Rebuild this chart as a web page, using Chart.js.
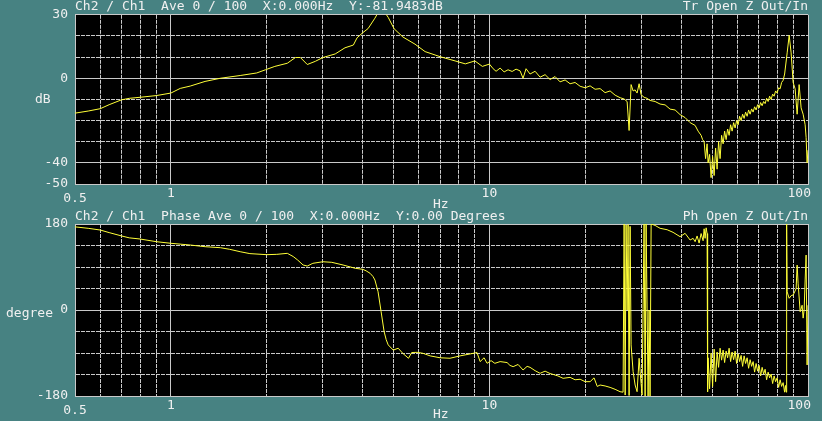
<!DOCTYPE html>
<html>
<head>
<meta charset="utf-8">
<script src="https://cdn.jsdelivr.net/npm/chart.js@4.4.0/dist/chart.umd.min.js"></script>
<style>
body{margin:0;background:#478282;width:822px;height:421px;overflow:hidden;position:relative;font-family:"DejaVu Sans Mono",monospace;color:#f0f0f0}
canvas{position:absolute;left:0}
.t{position:absolute;font-size:13px;line-height:13px;white-space:pre}
</style>
</head>
<body>
<canvas id="magChart" width="822" height="205" style="top:0"></canvas>
<canvas id="phaseChart" width="822" height="216" style="top:205px"></canvas>
<div class="t" style="left:75px;top:-1px">Ch2 / Ch1  Ave 0 / 100  X:0.000Hz  Y:-81.9483dB</div>
<div class="t" style="right:14px;top:-1px">Tr Open Z Out/In</div>
<div class="t" style="left:35px;top:92px">dB</div>
<div class="t" style="left:433px;top:197px">Hz</div>
<div class="t" style="left:75px;top:209px">Ch2 / Ch1  Phase Ave 0 / 100  X:0.000Hz  Y:0.00 Degrees</div>
<div class="t" style="right:14px;top:209px">Ph Open Z Out/In</div>
<div class="t" style="left:6px;top:306px">degree</div>
<div class="t" style="left:433px;top:407px">Hz</div>
<script>
// magnitude trace
let magFreq=[0.50,0.55,0.60,0.64,0.70,0.74,0.80,0.90,1.00,1.07,1.15,1.28,1.43,1.65,1.86,1.98,2.12,2.32,2.46,2.55,
 2.68,2.84,3.00,3.28,3.52,3.74,3.84,4.00,4.16,4.37,4.47,4.70,4.81,5.02,5.35,5.84,6.28,7.00,7.80,8.40,
 9.00,9.50,10.0,10.27,10.49,10.80,11.12,11.44,11.78,12.12,12.48,12.75,13.03,13.41,13.91,14.42,14.95,15.50,16.07,16.66,
 17.28,17.91,18.57,19.26,19.97,20.70,21.46,22.25,23.07,23.92,24.80,25.71,26.47,27.05,27.44,27.84,28.25,28.66,29.07,29.50,
 29.93,30.58,31.25,31.93,33.11,34.33,35.60,36.91,38.27,39.67,41.13,42.65,44.22,
 45.19,46.18,46.68,47.20,47.70,48.22,48.57,49.10,49.64,50.18,50.73,51.28,51.84,52.40,52.97,53.55,54.14,54.73,55.33,55.93,
 56.54,57.16,57.78,58.41,59.05,59.69,60.34,61.00,61.66,62.34,63.02,63.70,64.40,65.10,65.81,66.53,67.25,67.99,68.73,69.48,
 70.24,71.00,71.78,72.56,73.35,74.15,74.96,75.78,76.60,77.44,78.28,79.13,80.00,80.87,81.75,82.64,83.54,84.45,86.02,87.27,
 88.52,89.81,91.12,92.45,93.79,95.15,96.54,97.95,98.65,99.36,100.0];
let magDb=[-16.5,-15.5,-14.4,-12.5,-10.2,-9.5,-9.0,-8.2,-7.0,-4.8,-3.7,-1.5,0.0,1.3,2.5,4.0,5.6,7.1,9.8,9.8,
 6.5,8.0,9.8,11.5,14.4,15.7,19.1,21.5,23.5,28.4,31,31,28.8,23.4,19.5,16.1,12.6,10.2,8.2,6.8,
 8.2,5.6,6.7,4.5,3.3,4.8,3.0,4.0,3.2,4.3,3.5,0.0,4.5,2.0,3.3,0.5,1.7,-0.6,0.8,-1.7,
 -0.8,-2.6,-2.0,-3.8,-4.5,-3.6,-5.2,-4.9,-6.8,-6.0,-8.0,-9.2,-9.8,-11.0,-24.7,-3.0,-6.0,-5.5,-7.0,-2.6,
 -7.8,-9.0,-9.5,-10.5,-11.0,-12.2,-12.6,-14.6,-15.0,-17.2,-18.6,-21.0,-22.3,
 -25.0,-27,-29,-30,-38,-31,-40,-36,-47,-37,-46,-33,-43,-30,-38,-27,-31,-25,-29,-24,
 -27,-22,-25,-21,-23.5,-20,-22,-18,-20,-17,-19,-16,-18,-15,-17,-14.5,-16,-13.5,-15,-12.5,
 -14,-11.5,-13,-11,-12,-9.5,-11,-8.5,-10,-7.5,-8.5,-6,-7,-4.5,-5,-2,-1,2,12.0,20.3,
 12.0,-2.0,-5.0,-17.0,-3.0,-14.0,-17.0,-22.0,-28.0,-40.0,-34.0];

// phase trace
let phaseFreq=[0.50,0.55,0.60,0.64,0.70,0.74,0.80,0.90,1.00,1.15,1.28,1.43,1.53,1.65,1.77,2.00,2.15,2.32,2.42,2.50,
 2.60,2.68,2.79,3.00,3.20,3.47,3.79,4.00,4.10,4.22,4.31,4.37,4.47,4.57,4.67,4.74,4.81,4.99,5.17,5.35,
 5.57,5.70,5.93,6.19,6.51,7.00,7.52,8.09,8.69,9.14,9.35,9.62,9.83,10.12,10.40,10.80,11.36,11.60,11.87,12.30,
 12.75,13.13,13.41,13.91,14.42,14.95,15.50,15.80,16.40,17.03,17.91,18.57,19.26,19.97,20.70,21.30,21.80,22.25,23.07,23.92,
 24.80,25.71,26.27,26.47,26.67,26.85,27.05,27.24,27.44,27.64,27.84,28.25,28.66,29.07,29.50,29.71,30.14,30.58,30.81,31.03,
 31.25,31.48,31.71,31.93,32.18,33.11,34.33,36.12,37.70,39.67,41.13,42.65,43.58,44.22,44.86,45.52,46.18,46.85,47.20,47.53,
 47.89,48.22,
 48.40,48.57,49.10,49.64,50.18,50.73,51.28,51.84,52.40,52.97,
 53.55,54.14,54.73,55.33,55.93,56.54,57.16,57.78,58.41,59.05,
 59.69,60.34,61.00,61.66,62.34,63.02,63.70,64.40,65.10,65.81,
 66.53,67.25,67.99,68.73,69.48,70.24,71.00,71.78,72.56,73.35,
 74.15,74.96,75.78,76.60,77.44,78.28,79.13,80.00,80.87,81.75,
 82.64,83.54,84.45,85.00,85.40,85.70,86.02,87.27,88.52,89.81,
 91.12,91.78,92.45,93.10,94.50,95.84,96.54,97.24,97.95,98.65,
 99.36,100.0];
let phaseDeg=[174,171,167.4,162,155,151,148.6,143,139.6,136,132.5,130.4,127,122,118,115.8,116.5,118.6,112,104.6,
 94.2,92,97.7,101,99.8,94.2,87.3,85.2,82,76.8,70,62.8,38.3,-3.6,-45,-62,-73,-84,-80,-91,
 -101,-89,-88.6,-90.7,-96,-100,-101,-96,-92,-89,-108,-100,-111.6,-106,-111.6,-108,-110,-116,-118.6,-114,
 -125.6,-118,-120,-127,-132.5,-128,-133,-134.6,-138,-143,-141,-146,-145,-150,-150,-142,-160,-157,-159,-162,
 -166,-171,-172,180,-178,178,0,179,-179,175,-73,-129,-157,-171,-101,-129,-178,180,-180,180,
 4,-180,0,-180,180,177,171,168,162.6,153.5,160.5,146.5,150,143,155,140,160,145,170,150,
 172,160,
 -171,-100,-165,-90,-160,-82,-150,-88,-120,-80,
 -105,-84,-110,-86,-100,-80,-108,-88,-104,-86,
 -112,-92,-108,-95,-118,-96,-112,-100,-122,-104,
 -118,-108,-130,-112,-128,-116,-138,-120,-134,-124,
 -146,-130,-142,-134,-154,-138,-150,-142,-162,-146,
 -160,-152,-172,-158,-172,180,38,24.5,30,31.4,
 40,45,94,56,-3.6,10,-17,0,62.8,115,
 -115,10];

let freqTicks=[0.5,0.6,0.7,0.8,0.9,1,2,3,4,5,6,7,8,9,10,20,30,40,50,60,70,80,90,100];
let freqLabels=[0.5,1,10,100];
let freqSolid=[0.5,1,10,100];
let dbTicks=[-50,-40,-30,-20,-10,0,10,20,30];
let dbLabels=[-50,-40,0,30];
let dbSolid=[-50,-40,0,30];
let degTicks=[-180,-135,-90,-45,0,45,90,135,180];
let degLabels=[-180,0,180];
let degSolid=[-180,0,180];

const gridColor='#c9c9c9';
const textColor='#f0f0f0';
const traceColor='#ffff38';
const monoFont={family:'"DejaVu Sans Mono", monospace',size:13};

const blackArea={
    id:'blackArea',
    beforeDraw(chart){
        let a=chart.chartArea, c=chart.ctx;
        c.save(); c.fillStyle='#000'; c.fillRect(a.left,a.top,a.right-a.left,a.bottom-a.top); c.restore();
    }
};
const freqText={
    id:'freqText',
    afterDraw(chart){
        let c=chart.ctx, x=chart.scales.x, b=chart.chartArea.bottom;
        c.save();
        c.font='13px "DejaVu Sans Mono", monospace';
        c.fillStyle=textColor;
        c.textBaseline='alphabetic';
        freqLabels.forEach(v=>{
            let px=x.getPixelForValue(v);
            if(v===100){ c.textAlign='right'; c.fillText(String(v),px+3,b+12.5); }
            else if(v===0.5){ c.textAlign='center'; c.fillText('0.5',px,b+18); }
            else { c.textAlign='center'; c.fillText(String(v),px,b+12.5); }
        });
        c.restore();
    }
};

function makeChart(id,freq,vals,yMin,yMax,yTicks,yLabels,ySolid,topPad,xHeight){
    let pts=freq.map((f,i)=>({x:f,y:vals[i]}));
    return new Chart(document.getElementById(id),{
        type:'line',
        data:{datasets:[{data:pts,borderColor:traceColor,borderWidth:1,pointRadius:0,tension:0,fill:false}]},
        options:{
            responsive:false,animation:false,
            layout:{padding:{left:0,right:14,top:topPad,bottom:0}},
            plugins:{legend:{display:false},tooltip:{enabled:false}},
            scales:{
                x:{type:'logarithmic',min:0.5,max:100,
                    afterBuildTicks:s=>{s.ticks=freqTicks.map(v=>({value:v}));},
                    afterFit:s=>{s.height=xHeight;},
                    ticks:{display:false},
                    grid:{color:gridColor,lineWidth:1,drawTicks:false},
                    border:{color:gridColor,dash:c=>(c.tick&&!freqSolid.includes(c.tick.value))?[4,1]:[]}
                },
                y:{type:'linear',min:yMin,max:yMax,
                    afterBuildTicks:s=>{s.ticks=yTicks.map(v=>({value:v}));},
                    afterFit:s=>{s.width=75;},
                    ticks:{color:textColor,font:monoFont,padding:7,autoSkip:false,
                        callback:v=>yLabels.includes(v)?String(v):''},
                    grid:{color:gridColor,lineWidth:1,drawTicks:false},
                    border:{color:gridColor,dash:c=>(c.tick&&!ySolid.includes(c.tick.value))?[4,1]:[]}
                }
            }
        },
        plugins:[blackArea,freqText]
    });
}

makeChart('magChart',magFreq,magDb,-50,30,dbTicks,dbLabels,dbSolid,12,21);
makeChart('phaseChart',phaseFreq,phaseDeg,-180,180,degTicks,degLabels,degSolid,19,25);
</script>
</body>
</html>
